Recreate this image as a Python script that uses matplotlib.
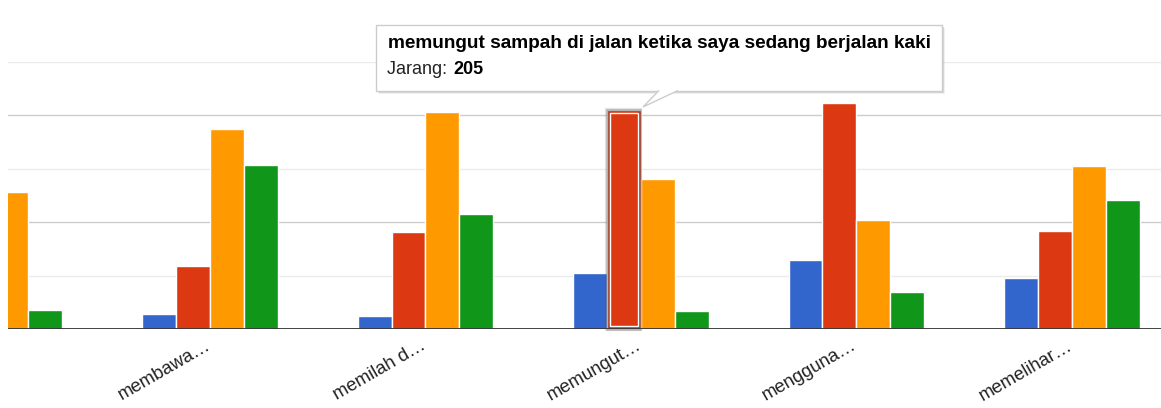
import matplotlib
matplotlib.use("Agg")
import matplotlib.pyplot as plt
from matplotlib.patches import Rectangle, Polygon
import numpy as np

# ---------------- data ----------------
categories = ["", "membawa…", "memilah d…", "memungut…", "mengguna…", "memelihar…"]
series_names = ["Tidak pernah", "Jarang", "Sering", "Selalu"]
tidak_pernah = [70, 14, 12, 53, 65, 48]
jarang = [196, 59, 91, 205, 212, 92]
sering = [128, 187, 203, 141, 102, 153]
selalu = [18, 154, 108, 17, 35, 121]
colors = ["#3366cc", "#dc3912", "#ff9900", "#109618"]
tooltip_title = "memungut sampah di jalan ketika saya sedang berjalan kaki"
tooltip_series = 1
tooltip_cat = 3
y_max = 250
major_ticks = [100, 200]
minor_ticks = [50, 150, 250]

W, H = 1161, 408
DPI = 100
plt.rcParams['font.family'] = ['Liberation Sans', 'DejaVu Sans']

fig = plt.figure(figsize=(W / DPI, H / DPI), dpi=DPI)
fig.patch.set_facecolor("white")

# layout in pixels
group_px = 215.45
group0_px = -5.45
left_px = 8
base_px = 329.3
top_px = 62.0

ax = fig.add_axes([left_px / W, 1 - base_px / H, (W - left_px) / W, (base_px - top_px) / H])
ax.set_xlim((left_px - group0_px) / group_px, (W - group0_px) / group_px)
ax.set_ylim(0, y_max)
for s in ax.spines.values():
    s.set_visible(False)
ax.set_yticks([])
ax.set_xticks([])

for y in minor_ticks:
    ax.axhline(y, color="#ebebeb", lw=1.0, zorder=0)
for y in major_ticks:
    ax.axhline(y, color="#cccccc", lw=1.0, zorder=0)

stride = 33.9 / group_px
x = np.arange(len(categories))
all_series = [tidak_pernah, jarang, sering, selalu]
for k, (vals, c) in enumerate(zip(all_series, colors)):
    ax.bar(x + (k - 1.5) * stride, vals, width=stride, color=c,
           edgecolor="white", linewidth=1.0, zorder=2)

ax.axhline(0, color="#333333", lw=1.3, zorder=3)

# highlighted bar (soft glow + inner white outline)
hx = tooltip_cat + (tooltip_series - 1.5) * stride
hv = all_series[tooltip_series][tooltip_cat]
for lw, a in [(3.0, 0.15), (1.8, 0.3)]:
    ax.add_patch(Rectangle((hx - stride / 2 + 0.5 / group_px, 0), stride - 1 / group_px, hv,
                           fill=False, edgecolor="#444444", lw=lw, alpha=a, zorder=4,
                           clip_on=False))
inset_x = 3.2 / group_px
inset_y = 3.0 / 1.07
ax.add_patch(Rectangle((hx - stride / 2 + inset_x, inset_y), stride - 2 * inset_x, hv - 2 * inset_y,
                       fill=False, edgecolor="white", lw=1.0, zorder=5))

# category labels
for i, lab in enumerate(categories):
    ax.annotate(lab, xy=(i, 0), xycoords="data", xytext=(0.8, -13.6),
                textcoords="offset points", ha="right", va="baseline",
                rotation=30, rotation_mode="anchor", fontsize=13.3,
                color="#222222", annotation_clip=False)

# tooltip
def fx(px):
    return px / W

def fy(py):
    return 1 - py / H

bx0, by0, bx1, by1 = 376, 25, 942, 91
for off, a in [(3, 0.06), (2, 0.10), (1, 0.14)]:
    fig.add_artist(Rectangle((fx(bx0 + off), fy(by1 + off)), (bx1 - bx0) / W, (by1 - by0) / H,
                             transform=fig.transFigure, facecolor="#000000", edgecolor="none",
                             alpha=a, zorder=10))
fig.add_artist(Rectangle((fx(bx0), fy(by1)), (bx1 - bx0) / W, (by1 - by0) / H,
                         transform=fig.transFigure, facecolor="white", edgecolor="#cccccc",
                         lw=1.0, zorder=11))
tri = [(fx(659), fy(by1 - 0.5)), (fx(643), fy(107)), (fx(678), fy(by1 - 0.5))]
fig.add_artist(Polygon(tri, closed=False, transform=fig.transFigure, facecolor="white",
                       edgecolor="#cccccc", lw=1.0, zorder=12))
fig.add_artist(Polygon([(fx(659.8), fy(by1 - 1)), (fx(677.2), fy(by1 - 1)), (fx(668), fy(by1 + 3))],
                       closed=True, transform=fig.transFigure, facecolor="white",
                       edgecolor="none", zorder=13))

fig.text(fx(387.5), fy(48.5), tooltip_title, fontsize=13.7, fontweight="bold",
         color="black", va="baseline", ha="left", zorder=14)
t1 = fig.text(fx(387), fy(74.5), series_names[tooltip_series] + ": ", fontsize=13.0,
              color="#222222", va="baseline", ha="left", zorder=14)
fig.canvas.draw()
bb = t1.get_window_extent()
fig.text(bb.x1 / W + 1.5 / W, fy(74.5), str(hv), fontsize=13.0, fontweight="bold",
         color="black", va="baseline", ha="left", zorder=14)

fig.savefig("out.png", dpi=DPI, facecolor="white")
